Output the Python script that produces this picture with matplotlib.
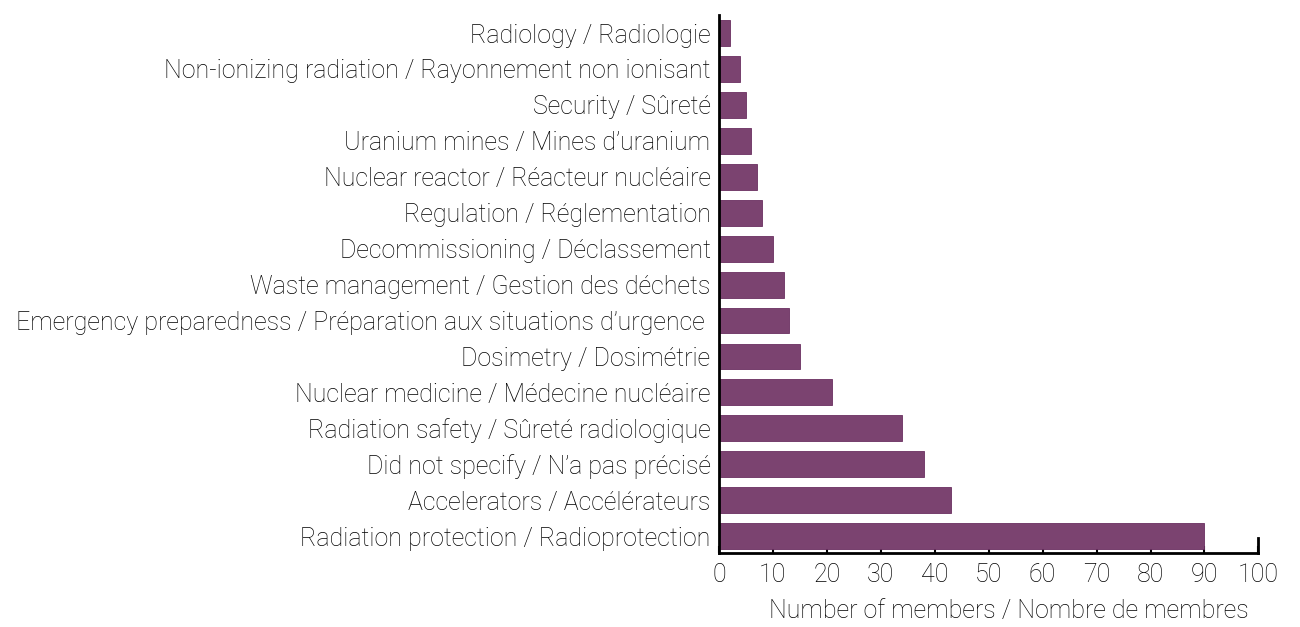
import matplotlib
matplotlib.use("Agg")
import matplotlib.pyplot as plt

categories = [
    "Radiation protection / Radioprotection",
    "Accelerators / Accélérateurs",
    "Did not specify / N’a pas précisé",
    "Radiation safety / Sûreté radiologique",
    "Nuclear medicine / Médecine nucléaire",
    "Dosimetry / Dosimétrie",
    "Emergency preparedness / Préparation aux situations d’urgence ",
    "Waste management / Gestion des déchets",
    "Decommissioning / Déclassement",
    "Regulation / Réglementation",
    "Nuclear reactor / Réacteur nucléaire",
    "Uranium mines / Mines d’uranium",
    "Security / Sûreté",
    "Non-ionizing radiation / Rayonnement non ionisant",
    "Radiology / Radiologie",
]
members = [90, 43, 38, 34, 21, 15, 13, 12, 10, 8, 7, 6, 5, 4, 2]
xticks = list(range(0, 101, 10))
xlabel = "Number of members / Nombre de membres"

plt.rcParams['font.family'] = ['Roboto', 'DejaVu Sans']
plt.rcParams['font.weight'] = 'light'

FS = 18

fig = plt.figure(figsize=(13, 6.27), dpi=100)
ax = fig.add_axes([0.553, 0.118, 0.415, 0.858])

ypos = list(range(len(categories)))
ax.barh(ypos, members, height=0.72, color='#7b4370', edgecolor='#6a2f60', linewidth=0.6, zorder=2)

ax.set_xlim(0, 100)
ax.set_ylim(-0.47, 14.5)
ax.set_yticks(ypos)
ax.set_yticklabels(categories, fontsize=FS, fontweight='light')
ax.set_xticks(xticks)
ax.set_xticklabels([str(t) for t in xticks], fontsize=FS, fontweight='light')
ax.tick_params(axis='y', length=0, pad=6)
ax.tick_params(axis='x', direction='in', length=5, width=1.5, pad=7, color='black')
ax.set_xlabel(xlabel, fontsize=FS, fontweight='light')
ax.xaxis.set_label_coords(0.537, -0.107)
ax.xaxis.label.set_verticalalignment('center')

for s in ['top', 'right']:
    ax.spines[s].set_visible(False)
for s in ['left', 'bottom']:
    ax.spines[s].set_linewidth(2)
    ax.spines[s].set_color('black')
ax.axvline(100, ymin=0, ymax=0.028, color='black', linewidth=2, clip_on=False)

fig.savefig("out.png", dpi=100, facecolor='white')
